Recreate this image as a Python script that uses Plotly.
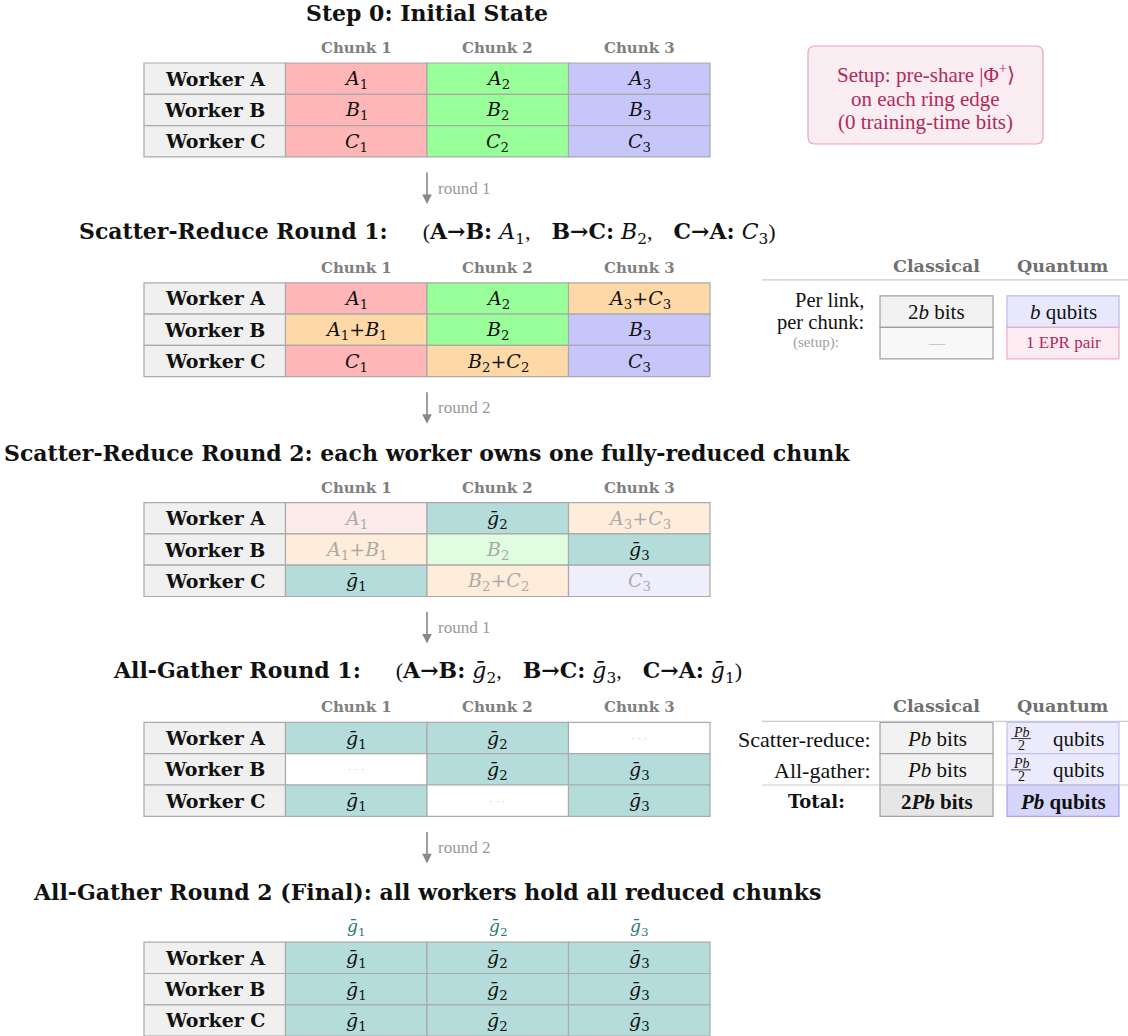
import plotly.graph_objects as go

W, H = 1128, 1036

# ---------------- data ----------------
workers = ["Worker A", "Worker B", "Worker C"]
chunks = ["Chunk 1", "Chunk 2", "Chunk 3"]

RS = '<span style="font-family:Liberation Serif">'  # regular-text span
SP = "\u00a0"
step_titles = [
    "<b>Step 0: Initial State</b>",
    "<b>Scatter-Reduce Round 1:</b>" + SP * 5 + RS + "(</span><b>A→B:</b>" + SP + "<i>A</i><sub>1</sub>" + RS + ",</span>" + SP * 3 + "<b>B→C:</b>" + SP + "<i>B</i><sub>2</sub>" + RS + ",</span>" + SP * 3 + "<b>C→A:</b>" + SP + "<i>C</i><sub>3</sub>" + RS + ")</span>",
    "<b>Scatter-Reduce Round 2: each worker owns one fully-reduced chunk</b>",
    "<b>All-Gather Round 1:</b>" + SP * 5 + RS + "(</span><b>A→B:</b>" + SP + "<i>ḡ</i><sub>2</sub>" + RS + ",</span>" + SP * 3 + "<b>B→C:</b>" + SP + "<i>ḡ</i><sub>3</sub>" + RS + ",</span>" + SP * 3 + "<b>C→A:</b>" + SP + "<i>ḡ</i><sub>1</sub>" + RS + ")</span>",
    "<b>All-Gather Round 2 (Final): all workers hold all reduced chunks</b>",
]

step_headers = [chunks, chunks, chunks, chunks, ["g1", "g2", "g3"]]

step_cells = [
    [["A1", "A2", "A3"], ["B1", "B2", "B3"], ["C1", "C2", "C3"]],
    [["A1", "A2", "A3+C3"], ["A1+B1", "B2", "B3"], ["C1", "B2+C2", "C3"]],
    [["A1", "g2", "A3+C3"], ["A1+B1", "B2", "g3"], ["g1", "B2+C2", "C3"]],
    [["g1", "g2", "..."], ["...", "g2", "g3"], ["g1", "...", "g3"]],
    [["g1", "g2", "g3"], ["g1", "g2", "g3"], ["g1", "g2", "g3"]],
]

step_states = [
    [["r", "g", "b"], ["r", "g", "b"], ["r", "g", "b"]],
    [["r", "g", "o"], ["o", "g", "b"], ["r", "o", "b"]],
    [["fr", "t", "fo"], ["fo", "fg", "t"], ["t", "fo", "fb"]],
    [["t", "t", "w"], ["w", "t", "t"], ["t", "w", "t"]],
    [["t", "t", "t"], ["t", "t", "t"], ["t", "t", "t"]],
]

arrow_labels = ["round 1", "round 2", "round 1", "round 2"]

setup_lines = ["Setup: pre-share |Φ<sup>+</sup>⟩", "on each ring edge", "(0 training-time bits)"]

cost_headers = ["Classical", "Quantum"]
cost1_labels = ["Per link,", "per chunk:", "(setup):"]
cost1_classical = ["2<i>b</i> bits", "—"]
cost1_quantum = ["<i>b</i> qubits", "1 EPR pair"]
cost2_labels = ["Scatter-reduce:", "All-gather:", "<b>Total:</b>"]
cost2_classical = ["<i>Pb</i> bits", "<i>Pb</i> bits", "<b>2<i>Pb</i> bits</b>"]
cost2_quantum = ["frac", "frac", "<b><i>Pb</i> qubits</b>"]

# ---------------- style ----------------
FB = "DejaVu Serif"        # bold / italic serif
FR = "Liberation Serif"    # regular serif
fills = {
    "r": "#ffb6b6", "g": "#99ff99", "b": "#c6c6fb", "o": "#ffd8a8", "t": "#b3dcda",
    "fr": "#fdeaea", "fg": "#e0fde0", "fb": "#eeeefd", "fo": "#ffeddb", "w": "#ffffff",
}
faded = {"fr", "fg", "fb", "fo"}
BORDER = "#aaaaaa"

X0 = 144.0
COLW = 141.5
ROWH = 31.3
TOP0 = 63.0
BLOCK = 219.8


def fmt(tok):
    if tok == "...":
        return "· · ·"
    parts = tok.split("+")
    out = []
    for p in parts:
        sym, idx = p[0], p[1:]
        if sym == "g":
            sym = "ḡ"
        out.append(f"<i>{sym}</i><sub>{idx}</sub>")
    return "+".join(out)


fig = go.Figure()
shapes = []
ann = []


def text(x, y, s, size=15, color="#111", xanchor="center", family=FB):
    ann.append(dict(x=x, y=y, xref="x", yref="y", text=s, showarrow=False,
                    xanchor=xanchor, yanchor="middle",
                    font=dict(family=family, size=size, color=color)))


def rect(x0, y0, x1, y1, fill, line, width=1.2):
    shapes.append(dict(type="rect", xref="x", yref="y", x0=x0, y0=y0, x1=x1, y1=y1,
                       fillcolor=fill, line=dict(color=line, width=width), layer="below"))


def hline(x0, x1, y, color="#cccccc", width=1.2):
    shapes.append(dict(type="line", xref="x", yref="y", x0=x0, x1=x1, y0=y, y1=y,
                       line=dict(color=color, width=width)))


cx_table = X0 + 2 * COLW
for k in range(5):
    top = TOP0 + k * BLOCK
    text(cx_table, top - 50, step_titles[k], size=22)
    for j, h in enumerate(step_headers[k]):
        cx = X0 + (j + 1.5) * COLW
        if k == 4:
            text(cx, top - 15, fmt(h), size=17, color="#2b7a77")
        else:
            text(cx, top - 15, f"<b>{h}</b>", size=15, color="#808080")
    for i, w in enumerate(workers):
        y0 = top + i * ROWH
        rect(X0, y0, X0 + COLW, y0 + ROWH, "#f0f0f0", BORDER)
        text(X0 + COLW / 2, y0 + ROWH / 2, f"<b>{w}</b>", size=19)
        for j in range(3):
            st = step_states[k][i][j]
            xa = X0 + (j + 1) * COLW
            rect(xa, y0, xa + COLW, y0 + ROWH, fills[st], BORDER)
            tok = step_cells[k][i][j]
            col = "#aaaaaa" if st in faded else ("#c8c8c8" if tok == "..." else "#111")
            if tok == "...":
                text(xa + COLW / 2, y0 + ROWH / 2, fmt(tok), size=11, color=col, family=FR)
            else:
                text(xa + COLW / 2, y0 + ROWH / 2 + 1, fmt(tok), size=19, color=col)
    if k < 4:
        ann.append(dict(x=cx_table, y=top + 141, ax=cx_table, ay=top + 108, xref="x", yref="y",
                        axref="x", ayref="y", text="", showarrow=True, arrowhead=2,
                        arrowsize=1.2, arrowwidth=1.6, arrowcolor="#888888"))
        text(cx_table + 9, top + 125, arrow_labels[k], size=17, color="#999999",
             xanchor="left", family=FR)

# ---------- setup box (rounded) ----------
bx0, by0, bx1, by1, r = 808, 46, 1043, 144, 7
path = (f"M {bx0+r},{by0} L {bx1-r},{by0} Q {bx1},{by0} {bx1},{by0+r} "
        f"L {bx1},{by1-r} Q {bx1},{by1} {bx1-r},{by1} L {bx0+r},{by1} "
        f"Q {bx0},{by1} {bx0},{by1-r} L {bx0},{by0+r} Q {bx0},{by0} {bx0+r},{by0} Z")
shapes.append(dict(type="path", xref="x", yref="y", path=path, fillcolor="#faedf2",
                   line=dict(color="#eaa3be", width=1.2), layer="below"))
for y, s in zip([73, 99, 122], setup_lines):
    text((bx0 + bx1) / 2, y, s, size=21, color="#b02a5c", family=FR)

# ---------- cost table 1 ----------
CX0, CX1 = 880, 993
QX0, QX1 = 1007, 1119
top = TOP0 + BLOCK
text((CX0 + CX1) / 2, top - 17, f"<b>{cost_headers[0]}</b>", size=17.5, color="#707070")
text((QX0 + QX1) / 2, top - 17, f"<b>{cost_headers[1]}</b>", size=17.5, color="#707070")
hline(762, 1128, top - 3)
ry = top + 13
rect(CX0, ry, CX1, ry + 31.5, "#f2f2f2", "#a0a0a0")
rect(CX0, ry + 31.5, CX1, ry + 63, "#f8f8f8", "#a0a0a0")
rect(QX0, ry, QX1, ry + 31.5, "#e8e8fd", "#b8b8f6")
rect(QX0, ry + 31.5, QX1, ry + 63, "#fcebf1", "#f1aac3")
text((CX0 + CX1) / 2, ry + 16, cost1_classical[0], size=21, family=FR)
text((CX0 + CX1) / 2, ry + 47, cost1_classical[1], size=16, color="#c8c8c8", family=FR)
text((QX0 + QX1) / 2, ry + 16, cost1_quantum[0], size=21, family=FR)
text((QX0 + QX1) / 2, ry + 47, cost1_quantum[1], size=17, color="#b02a5c", family=FR)
text(866, top + 17, cost1_labels[0], size=20.5, xanchor="right", family=FR)
text(866, top + 40, cost1_labels[1], size=20.5, xanchor="right", family=FR)
text(816, top + 60, cost1_labels[2], size=15, color="#a0a0a0", family=FR)

# ---------- cost table 2 ----------
top = TOP0 + 3 * BLOCK
text((CX0 + CX1) / 2, top - 16, f"<b>{cost_headers[0]}</b>", size=17.5, color="#707070")
text((QX0 + QX1) / 2, top - 16, f"<b>{cost_headers[1]}</b>", size=17.5, color="#707070")
hline(762, 1128, top - 1)
RH2 = 31.3
for i in range(3):
    y0 = top + i * RH2
    total = i == 2
    rect(CX0, y0, CX1, y0 + RH2, "#e6e6e6" if total else "#f2f2f2", "#a0a0a0")
    rect(QX0, y0, QX1, y0 + RH2, "#d6d6fa" if total else "#ebebfd",
         "#a4a4f2" if total else "#c0c0f6")
    cy = y0 + RH2 / 2
    text((CX0 + CX1) / 2, cy + 1, cost2_classical[i], size=21, family=FR)
    if cost2_quantum[i] == "frac":
        fx = 1021
        text(fx, cy - 6, "<i>Pb</i>", size=14, family=FR)
        text(fx, cy + 7.5, "2", size=14, family=FR)
        shapes.append(dict(type="line", xref="x", yref="y", x0=fx - 10, x1=fx + 10,
                           y0=cy + 0.5, y1=cy + 0.5, line=dict(color="#111", width=0.8)))
        text(1051, cy + 1, "qubits", size=21, xanchor="left", family=FR)
    else:
        text((QX0 + QX1) / 2, cy + 1, cost2_quantum[i], size=21, family=FR)
    if total:
        text(816, cy + 1, cost2_labels[i], size=18)
    else:
        text(873, cy + 1, cost2_labels[i], size=22, xanchor="right", family=FR)
hline(762, 1128, top + 2 * RH2)

fig.update_layout(
    width=W, height=H, margin=dict(l=0, r=0, t=0, b=0),
    paper_bgcolor="white", plot_bgcolor="white",
    xaxis=dict(range=[0, W], visible=False, fixedrange=True),
    yaxis=dict(range=[H, 0], visible=False, fixedrange=True),
    shapes=shapes, annotations=ann, showlegend=False,
)
fig.write_html("out.html", config={"displayModeBar": False},
               post_script="document.body.style.margin='0';")
